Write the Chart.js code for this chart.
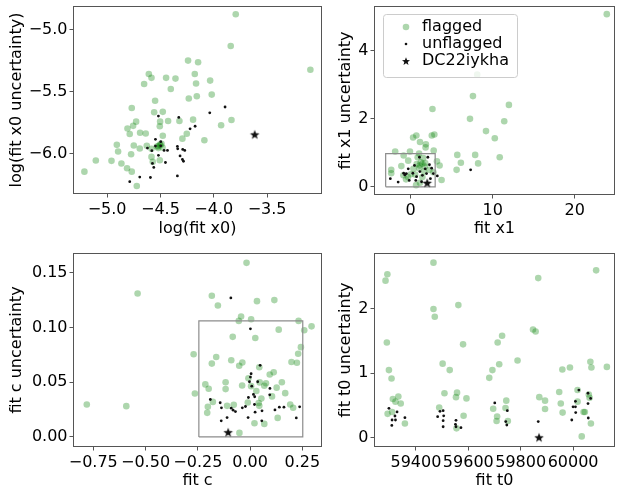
<!DOCTYPE html>
<html><head><meta charset="utf-8">
<script src="https://cdn.jsdelivr.net/npm/chart.js@4.4.1/dist/chart.umd.min.js"></script>
<style>
html,body{margin:0;padding:0;background:#fff;}
#wrap{position:relative;width:621px;height:491px;overflow:hidden;background:#fff;}
canvas{position:absolute;}
</style></head><body>
<div id="wrap">
<canvas id="c1" width="330" height="245" style="left:0;top:0"></canvas>
<canvas id="c2" width="296" height="245" style="left:325px;top:0"></canvas>
<canvas id="c3" width="330" height="246" style="left:0;top:245px"></canvas>
<canvas id="c4" width="296" height="246" style="left:325px;top:245px"></canvas>
</div>
<script>
// ---------- data ----------
const seriesNames = ['flagged', 'unflagged', 'DC22iykha'];

// panel 1: log(fit x0) vs log(fit x0 uncertainty)
const p1Flagged = [[-3.794,-4.876],[-3.841,-5.132],[-3.094,-5.324],[-4.241,-5.25],[-4.147,-5.263],[-4.609,-5.358],[-4.584,-5.389],[-4.653,-5.439],[-4.447,-5.389],[-4.359,-5.395],[-4.403,-5.479],[-4.178,-5.358],[-4.166,-5.434],[-4.034,-5.411],[-4.019,-5.524],[-4.234,-5.555],[-4.159,-5.537],[-4.55,-5.574],[-4.769,-5.632],[-4.559,-5.666],[-4.478,-5.663],[-4.728,-5.742],[-4.756,-5.776],[-4.809,-5.797],[-4.788,-5.842],[-4.503,-5.742],[-4.506,-5.779],[-4.428,-5.737],[-4.322,-5.737],[-4.194,-5.726],[-4.253,-5.839],[-4.294,-5.879],[-4.088,-5.892],[-3.931,-5.771],[-3.834,-5.729],[-4.478,-5.855],[-4.691,-5.832],[-4.638,-5.837],[-4.909,-5.929],[-4.897,-5.982],[-4.75,-5.934],[-4.775,-6.005],[-4.694,-5.958],[-4.628,-5.937],[-4.584,-5.961],[-4.534,-5.942],[-4.506,-5.926],[-4.481,-5.95],[-4.584,-6.026],[-4.572,-6.066],[-4.506,-6.053],[-4.959,-6.058],[-5.106,-6.055],[-5.213,-6.145],[-4.866,-6.079],[-4.813,-6.118],[-4.769,-6.145],[-4.722,-6.26],[-4.52,-5.94],[-4.5,-5.93],[-4.52,-5.955],[-4.49,-5.92]];
const p1Unflagged = [[-4.519,-5.697],[-4.328,-5.708],[-4.0375,-5.671],[-3.894,-5.624],[-4.175,-5.779],[-4.222,-5.8],[-4.547,-5.884],[-4.497,-5.903],[-4.547,-5.939],[-4.622,-5.955],[-4.581,-5.976],[-4.466,-5.974],[-4.434,-5.974],[-4.341,-5.942],[-4.338,-5.961],[-4.291,-5.966],[-4.272,-5.974],[-4.316,-6.018],[-4.294,-6.047],[-4.284,-6.061],[-4.519,-6.013],[-4.453,-6.071],[-4.575,-6.079],[-4.5625,-6.111],[-4.694,-6.189],[-4.594,-6.192],[-4.788,-6.226],[-4.341,-6.179],[-4.497,-5.937]];
const p1Star = [[-3.616,-5.845]];
const p1XTicks = [-5.0,-4.5,-4.0,-3.5];
const p1YTicks = [-6.0,-5.5,-5.0];

// panel 2: fit x1 vs fit x1 uncertainty
const p2Flagged = [[23.90,5.08],[8.12,3.30],[7.60,2.67],[11.98,2.41],[7.24,2.0],[11.41,1.93],[9.19,1.64],[10.26,1.43],[10.86,0.87],[5.69,0.94],[7.87,0.94],[6.13,0.71],[5.61,0.50],[8.23,0.69],[2.67,2.29],[2.90,1.54],[2.59,1.51],[0.71,1.51],[0.31,1.45],[1.15,1.32],[1.87,1.25],[1.83,1.16],[2.82,1.07],[-1.87,1.04],[-0.07,1.04],[1.04,0.98],[-0.84,0.92],[3.22,0.75],[3.54,0.63],[3.78,0.20],[-2.35,0.50],[-2.35,0.40],[-1.12,0.61],[-0.28,0.77],[0.75,0.67],[1.11,0.63],[1.79,0.70],[1.75,0.60],[0.87,0.87],[1.55,0.85],[0.35,0.53],[2.30,0.50],[-0.32,0.29],[0.04,0.37],[0.56,0.36],[1.44,0.29],[0.68,0.05],[1.15,0.12],[2.78,0.43],[-0.55,0.22],[-0.87,0.34],[1.24,0.72],[1.45,0.68],[1.04,0.55],[1.65,0.45]];
const p2Unflagged = [[-2.46,0.24],[-1.51,0.14],[-0.84,0.40],[-0.51,0.39],[-0.28,0.53],[0.28,0.40],[0.48,0.63],[1.08,0.87],[1.44,0.34],[2.11,0.87],[2.30,0.65],[1.79,0.53],[1.95,0.39],[2.78,0.39],[3.26,0.32],[2.42,0.24],[7.32,0.50],[0.64,0.19],[-0.16,0.19],[1.14,0.45],[0.73,0.30],[-0.70,0.35],[1.34,0.15],[2.57,0.55]];
const p2Star = [[2.03,0.12]];
const p2BoxX = [-3.03, 3.0];
const p2BoxY = [0, 0.98];
const p2XTicks = [0,10,20];
const p2YTicks = [0,2,4];

// panel 3: fit c vs fit c uncertainty
const p3Flagged = [[-0.781,0.0296],[-0.592,0.0281],[-0.538,0.131],[-0.017,0.159],[-0.183,0.129],[-0.154,0.120],[0.033,0.124],[0.116,0.125],[-0.043,0.110],[-0.054,0.106],[0.005,0.1075],[0.232,0.106],[0.259,0.0975],[0.294,0.101],[0.137,0.098],[-0.083,0.0914],[0.025,0.0904],[0.243,0.082],[0.230,0.076],[-0.270,0.0755],[-0.162,0.073],[-0.183,0.067],[-0.090,0.070],[-0.052,0.065],[-0.037,0.068],[0.044,0.0636],[0.198,0.0684],[0.224,0.0678],[0.094,0.057],[0.113,0.059],[-0.008,0.0535],[-0.214,0.048],[-0.198,0.044],[-0.117,0.050],[-0.117,0.0437],[-0.038,0.047],[0.005,0.0464],[0.046,0.0498],[0.068,0.0467],[0.076,0.049],[0.127,0.045],[0.152,0.050],[0.168,0.040],[-0.264,0.0397],[0.030,0.042],[0.054,0.035],[0.105,0.037],[-0.178,0.032],[-0.202,0.0275],[-0.205,0.022],[-0.110,0.0284],[-0.078,0.0293],[-0.011,0.0315],[0.044,0.0284],[0.041,0.031],[0.192,0.0296],[0.206,0.0266],[0.132,0.0174],[0.021,0.0125],[0.068,0.0119],[-0.051,0.0037]];
const p3Unflagged = [[-0.092,0.127],[0.0016,0.0987],[0.048,0.0654],[0.005,0.0577],[0.0016,0.0547],[-0.003,0.0504],[0.0365,0.0504],[0.008,0.0464],[0.095,0.0443],[0.016,0.0388],[-0.008,0.036],[0.022,0.0367],[0.094,0.0385],[-0.190,0.0342],[-0.143,0.0312],[-0.137,0.0266],[-0.090,0.0263],[-0.081,0.0244],[-0.070,0.0232],[-0.022,0.0278],[0.021,0.0296],[0.024,0.0226],[0.057,0.0238],[0.119,0.0247],[0.140,0.0272],[0.162,0.0272],[0.237,0.0275],[0.221,0.0174],[-0.138,0.0147],[-0.110,0.0177],[-0.0095,0.0177],[0.056,0.0147],[-0.037,0.0266]];
const p3Star = [[-0.105,0.0043]];
const p3BoxX = [-0.245, 0.252];
const p3BoxY = [0, 0.106];
const p3XTicks = [-0.75,-0.5,-0.25,0,0.25];
const p3YTicks = [0,0.05,0.1,0.15];

// panel 4: fit t0 vs fit t0 uncertainty
const p4Flagged = [[59291,2.54],[59284,2.44],[59289,1.48],[59297,1.05],[59307,0.92],[59312,0.60],[59333,0.64],[59342,0.53],[59322,0.56],[59292,0.37],[59309,0.40],[59358,0.22],[59467,2.72],[59467,2.0],[59472,1.88],[59562,2.06],[59580,1.45],[59502,1.15],[59529,1.05],[59509,0.69],[59489,0.47],[59557,0.70],[59553,0.63],[59593,0.61],[59582,0.34],[59555,0.145],[59867,2.48],[59847,1.68],[59857,1.65],[59729,1.585],[59712,1.48],[59718,1.14],[59788,1.20],[59692,1.05],[59680,0.93],[59695,0.45],[59710,0.33],[59708,0.26],[59745,0.575],[59742,0.46],[59751,0.26],[59871,0.63],[59893,0.575],[59893,0.445],[60088,2.60],[59947,0.71],[59959,1.06],[59988,1.09],[60066,1.18],[60070,1.09],[60129,1.10],[59953,0.53],[59960,0.39],[60017,0.74],[60017,0.56],[60040,0.40],[60060,0.67],[60063,0.62],[60068,0.22],[60033,0.02],[60045,0.40]];
const p4Unflagged = [[59297,0.456],[59309,0.275],[59328,0.40],[59320,0.337],[59322,0.275],[59308,0.19],[59358,0.31],[59483,0.326],[59492,0.41],[59504,0.42],[59506,0.34],[59504,0.264],[59504,0.17],[59553,0.27],[59551,0.207],[59553,0.17],[59572,0.155],[59701,0.54],[59749,0.42],[59743,0.25],[59747,0.197],[59867,0.25],[59995,0.275],[60000,0.48],[60009,0.48],[60009,0.565],[60010,0.39],[60022,0.74],[60057,0.69],[60057,0.53],[60067,0.61],[60058,0.306]];
const p4Star = [[59870,0.005]];
const p4XTicks = [59400,59600,59800,60000];
const p4YTicks = [0,1,2];

// ---------- styling ----------
const FONT = "'DejaVu Sans', sans-serif";
Chart.defaults.font.family = FONT;
Chart.defaults.font.size = 16;
Chart.defaults.color = '#000';
const GREEN = 'rgba(0,128,0,0.32)';
const DOT = '#111';
const SPINE = '#555';

function makeStar(size, ro, ri) {
  const c = document.createElement('canvas');
  c.width = size; c.height = size;
  const g = c.getContext('2d');
  g.fillStyle = '#111';
  g.beginPath();
  for (let i = 0; i < 10; i++) {
    const r = i % 2 === 0 ? ro : ri;
    const a = -Math.PI / 2 + i * Math.PI / 5;
    const px = size / 2 + r * Math.cos(a), py = size / 2 + r * Math.sin(a) + 0.5;
    if (i === 0) g.moveTo(px, py); else g.lineTo(px, py);
  }
  g.closePath(); g.fill();
  return c;
}
const starImg = makeStar(12, 5, 2.1);
const starLegendImg = makeStar(10, 4.2, 1.8);

function fmt(v, dec) {
  if (Math.abs(v) < 1e-12) v = 0;
  const s = Math.abs(v).toFixed(dec);
  return v < 0 ? '\u2212' + s : s;
}
const toPts = arr => arr.map(p => ({x: p[0], y: p[1]}));

const spinePlugin = {
  id: 'spines',
  afterDraw(chart) {
    const {ctx, chartArea: a} = chart;
    ctx.save();
    ctx.strokeStyle = SPINE; ctx.lineWidth = 1;
    ctx.strokeRect(Math.round(a.left) + 0.5, Math.round(a.top) + 0.5, Math.round(a.right - a.left) - 1, Math.round(a.bottom - a.top) - 1);
    ctx.restore();
  }
};

const legendPlugin = {
  id: 'innerLegend',
  afterDraw(chart) {
    const {ctx, chartArea: a} = chart;
    const x0 = a.left + 9, y0 = a.top + 8, w = 134, h = 63, r = 3;
    ctx.save();
    ctx.fillStyle = 'rgba(255,255,255,0.8)';
    ctx.strokeStyle = '#cccccc'; ctx.lineWidth = 1;
    ctx.beginPath();
    ctx.roundRect(x0 + 0.5, y0 + 0.5, w, h, r);
    ctx.fill(); ctx.stroke();
    const mx = x0 + 23, tx = x0 + 39;
    const rows = [y0 + 13, y0 + 30, y0 + 47];
    ctx.fillStyle = GREEN;
    ctx.beginPath(); ctx.arc(mx, rows[0], 3.3, 0, Math.PI * 2); ctx.fill();
    ctx.fillStyle = DOT;
    ctx.beginPath(); ctx.arc(mx, rows[1], 1.3, 0, Math.PI * 2); ctx.fill();
    ctx.drawImage(starLegendImg, mx - 5, rows[2] - 5);
    ctx.fillStyle = '#000';
    ctx.font = '16px ' + FONT;
    ctx.textBaseline = 'middle'; ctx.textAlign = 'left';
    seriesNames.forEach((n, i) => ctx.fillText(n, tx, rows[i]));
    ctx.restore();
  }
};

function makePanel(id, o) {
  const datasets = [
    {label: seriesNames[0], data: toPts(o.flagged), backgroundColor: GREEN, borderWidth: 0, pointRadius: 3.3, pointHoverRadius: 3.3, order: 3},
    {label: seriesNames[1], data: toPts(o.unflagged), backgroundColor: DOT, borderWidth: 0, pointRadius: 1.4, pointHoverRadius: 1.4, order: 2},
    {label: seriesNames[2], data: toPts(o.star), pointStyle: starImg, pointRadius: 6, backgroundColor: '#111', borderWidth: 0, order: 0}
  ];
  if (o.boxX) {
    const bx = o.boxX, by = o.boxY;
    datasets.push({label: 'box', data: [{x: bx[0], y: by[0]}, {x: bx[1], y: by[0]}, {x: bx[1], y: by[1]}, {x: bx[0], y: by[1]}, {x: bx[0], y: by[0]}],
      showLine: true, borderColor: '#8c8c8c', borderWidth: 1.2, pointRadius: 0, fill: false, tension: 0, order: 1});
  }
  const plugins = [spinePlugin];
  if (o.legend) plugins.push(legendPlugin);
  return new Chart(document.getElementById(id), {
    type: 'scatter',
    data: {datasets},
    plugins,
    options: {
      responsive: false, animation: false, devicePixelRatio: 1,
      layout: {padding: o.padding},
      plugins: {legend: {display: false}, tooltip: {enabled: false}},
      scales: {
        x: {
          type: 'linear', min: o.xMin, max: o.xMax,
          afterBuildTicks: s => { s.ticks = o.xTicks.map(v => ({value: v})); },
          afterFit: s => { s.height = o.xHeight; s.paddingLeft = 0; s.paddingRight = 0; s.paddingTop = 0; s.paddingBottom = 0; },
          ticks: {callback: v => fmt(v, o.xDec), padding: 3, color: '#000', maxRotation: 0, autoSkip: false, font: {size: 16}},
          grid: {display: true, drawOnChartArea: false, drawTicks: true, tickLength: 3.5, tickColor: SPINE, tickWidth: 1},
          border: {display: false},
          title: {display: true, text: o.xTitle, color: '#000', font: {size: 16}, padding: {top: 0, bottom: o.xTitlePad}}
        },
        y: {
          type: 'linear', min: o.yMin, max: o.yMax,
          afterBuildTicks: s => { s.ticks = o.yTicks.map(v => ({value: v})); },
          afterFit: s => { s.width = o.yWidth; s.paddingLeft = 0; s.paddingRight = 0; s.paddingTop = 0; s.paddingBottom = 0; },
          ticks: {callback: v => fmt(v, o.yDec), padding: 2, color: '#000', autoSkip: false, font: {size: 16}},
          grid: {display: true, drawOnChartArea: false, drawTicks: true, tickLength: 3.5, tickColor: SPINE, tickWidth: 1},
          border: {display: false},
          title: {display: true, text: o.yTitle, color: '#000', font: {size: 16}, padding: {top: o.yTitlePad, bottom: 0}}
        }
      }
    }
  });
}

makePanel('c1', {flagged: p1Flagged, unflagged: p1Unflagged, star: p1Star,
  xMin: -5.32, xMax: -2.985, yMin: -6.325, yMax: -4.81, xTicks: p1XTicks, yTicks: p1YTicks, xDec: 1, yDec: 1,
  xTitle: 'log(fit x0)', yTitle: 'log(fit x0 uncertainty)',
  padding: {left: 0, top: 3, right: 8, bottom: 0}, yWidth: 73, xHeight: 51, xTitlePad: 7, yTitlePad: 7});

makePanel('c2', {flagged: p2Flagged, unflagged: p2Unflagged, star: p2Star, boxX: p2BoxX, boxY: p2BoxY, legend: true,
  xMin: -4.45, xMax: 24.9, yMin: -0.24, yMax: 5.32, xTicks: p2XTicks, yTicks: p2YTicks, xDec: 0, yDec: 0,
  xTitle: 'fit x1', yTitle: 'fit x1 uncertainty',
  padding: {left: 0, top: 3, right: 1, bottom: 0}, yWidth: 49, xHeight: 50, xTitlePad: 7, yTitlePad: 11});

makePanel('c3', {flagged: p3Flagged, unflagged: p3Unflagged, star: p3Star, boxX: p3BoxX, boxY: p3BoxY,
  xMin: -0.847, xMax: 0.344, yMin: -0.0092, yMax: 0.168, xTicks: p3XTicks, yTicks: p3YTicks, xDec: 2, yDec: 2,
  xTitle: 'fit c', yTitle: 'fit c uncertainty',
  padding: {left: 0, top: 8, right: 8, bottom: 0}, yWidth: 73, xHeight: 44, xTitlePad: 1, yTitlePad: 7});

makePanel('c4', {flagged: p4Flagged, unflagged: p4Unflagged, star: p4Star,
  xMin: 59240, xMax: 60160, yMin: -0.145, yMax: 2.87, xTicks: p4XTicks, yTicks: p4YTicks, xDec: 0, yDec: 0,
  xTitle: 'fit t0', yTitle: 'fit t0 uncertainty',
  padding: {left: 0, top: 8, right: 1, bottom: 0}, yWidth: 49, xHeight: 44, xTitlePad: 1, yTitlePad: 11});
</script>
</body></html>
